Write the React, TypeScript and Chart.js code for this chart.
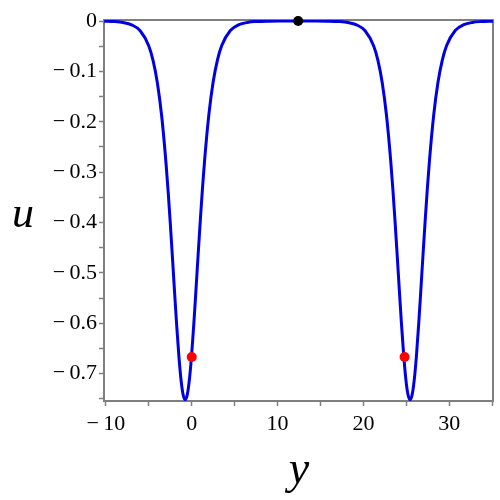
import React, { useEffect, useRef } from "react";
import { Chart, registerables } from "chart.js";

Chart.register(...registerables);

// Curve u(y)
const curveX = [
  -10.2, -9, -8, -7, -6, -5, -4.5, -4, -3.5, -3, -2.75, -2.5, -2.25, -2, -1.75, -1.5, -1.25, -1, -0.76,
  -0.5, -0.25, 0, 0.25, 0.5, 0.75, 1, 1.25, 1.5, 2, 2.5, 3, 3.5, 4.5, 5.5, 6.5, 7.5, 9, 10.5, 12.4,
  14.2, 15.7, 17.2, 18.2, 19.2, 20.2, 21.2, 21.7, 22.2, 22.7, 23.2, 23.45, 23.7, 23.95, 24.2, 24.45, 24.7, 24.95, 25.2, 25.44,
  25.7, 25.95, 26.2, 26.45, 26.7, 26.95, 27.2, 27.45, 27.7, 28.2, 28.7, 29.2, 29.7, 30.7, 31.7, 32.7, 33.7, 35.1,
];
const curveU = [
  -0.00035, -0.0011, -0.0029, -0.0075, -0.0194, -0.0496, -0.0786, -0.1229, -0.1886, -0.281, -0.3378, -0.4009, -0.4686, -0.5379, -0.6048, -0.6646, -0.7119, -0.7421, -0.752,
  -0.7404, -0.7087, -0.6602, -0.5997, -0.5323, -0.4631, -0.3957, -0.333, -0.2768, -0.1855, -0.1208, -0.0772, -0.0487, -0.019, -0.0073, -0.0028, -0.0011, -0.00026, -0.00006, 0,
  -0.00006, -0.00026, -0.0011, -0.0029, -0.0075, -0.0194, -0.0496, -0.0786, -0.1229, -0.1886, -0.281, -0.3378, -0.4009, -0.4686, -0.5379, -0.6048, -0.6646, -0.7119, -0.7421, -0.752,
  -0.7404, -0.7087, -0.6602, -0.5997, -0.5323, -0.4631, -0.3957, -0.333, -0.2768, -0.1855, -0.1208, -0.0772, -0.0487, -0.019, -0.0073, -0.0028, -0.0011, -0.0003,
];

// Marked points
const redX = [0, 24.8];
const redU = [-0.667, -0.667];
const blackX = [12.4];
const blackU = [0];

// Axes
const xMin = -10.22;
const xMax = 35.1;
const yMin = -0.7545;
const yMax = 0.002;
const xTicks = [-10, -5, 0, 5, 10, 15, 20, 25, 30, 35];
const xLabeled = [-10, 0, 10, 20, 30];
const yTicks = [0, -0.05, -0.1, -0.15, -0.2, -0.25, -0.3, -0.35, -0.4, -0.45, -0.5, -0.55, -0.6, -0.65, -0.7, -0.75];
const yLabeled = [0, -0.1, -0.2, -0.3, -0.4, -0.5, -0.6, -0.7];
const xTitle = "y";
const yTitle = "u";

const AXIS_COLOR = "#7f7f7f";
const FONT = '"Liberation Serif", "Times New Roman", serif';

function fmt(v: number, decimals: number): string {
  if (Math.abs(v) < 1e-9) return "0";
  const s = Math.abs(v).toFixed(decimals);
  return v < 0 ? "\u2212\u2009" + s : s;
}

const framePlugin = {
  id: "frame",
  beforeDatasetsDraw(chart: any) {
    const { ctx, chartArea } = chart;
    ctx.save();
    ctx.strokeStyle = AXIS_COLOR;
    ctx.lineWidth = 2;
    ctx.strokeRect(chartArea.left, chartArea.top, chartArea.right - chartArea.left, chartArea.bottom - chartArea.top);
    ctx.restore();
  },
  afterDraw(chart: any) {
    const { ctx } = chart;
    ctx.save();
    ctx.fillStyle = "#000";
    ctx.textBaseline = "alphabetic";
    ctx.textAlign = "center";
    ctx.font = "italic 44px " + FONT;
    ctx.fillText(yTitle, 23, 227);
    ctx.font = "italic 46px " + FONT;
    ctx.fillText(xTitle, 299, 483);
    ctx.restore();
  },
};

export default function App() {
  const ref = useRef<HTMLCanvasElement | null>(null);
  useEffect(() => {
    if (!ref.current) return;
    const chart = new Chart(ref.current, {
      type: "scatter",
      data: {
        datasets: [
          {
            data: blackX.map((x, i) => ({ x, y: blackU[i] })),
            showLine: false,
            pointRadius: 5,
            pointBackgroundColor: "#000",
            pointBorderColor: "#000",
            pointBorderWidth: 0,
            clip: false,
          } as any,
          {
            data: redX.map((x, i) => ({ x, y: redU[i] })),
            showLine: false,
            pointRadius: 5,
            pointBackgroundColor: "#ff0000",
            pointBorderColor: "#ff0000",
            pointBorderWidth: 0,
            clip: false,
          } as any,
          {
            data: curveX.map((x, i) => ({ x, y: curveU[i] })),
            showLine: true,
            borderColor: "#0000e6",
            borderWidth: 3,
            pointRadius: 0,
            cubicInterpolationMode: "monotone",
            fill: false,
          } as any,
        ],
      },
      options: {
        responsive: false,
        animation: false,
        devicePixelRatio: 1,
        layout: { padding: { top: 20, right: 7, left: 0, bottom: 0 } },
        plugins: { legend: { display: false }, tooltip: { enabled: false } },
        scales: {
          x: {
            type: "linear",
            min: xMin,
            max: xMax,
            afterBuildTicks: (scale: any) => {
              scale.ticks = xTicks.map((v) => ({ value: v }));
            },
            afterFit: (scale: any) => {
              scale.height = 99;
            },
            border: { display: false },
            grid: { drawOnChartArea: false, drawTicks: true, tickLength: 5, tickColor: AXIS_COLOR, tickWidth: 1.5 },
            ticks: {
              autoSkip: false,
              maxRotation: 0,
              padding: 5,
              color: "#000",
              font: { family: FONT, size: 22 },
              callback: (v: any) => (xLabeled.some((t) => Math.abs(t - v) < 1e-6) ? fmt(Number(v), 0) : ""),
            },
          },
          y: {
            type: "linear",
            min: yMin,
            max: yMax,
            afterBuildTicks: (scale: any) => {
              scale.ticks = yTicks.map((v) => ({ value: v }));
            },
            afterFit: (scale: any) => {
              scale.width = 104;
            },
            border: { display: false },
            grid: { drawOnChartArea: false, drawTicks: true, tickLength: 5, tickColor: AXIS_COLOR, tickWidth: 1.5 },
            ticks: {
              autoSkip: false,
              padding: 2,
              color: "#000",
              font: { family: FONT, size: 22 },
              callback: (v: any) => (yLabeled.some((t) => Math.abs(t - v) < 1e-6) ? fmt(Number(v), 1) : ""),
            },
          },
        },
      },
      plugins: [framePlugin],
    } as any);
    return () => chart.destroy();
  }, []);
  return (
    <div style={{ position: "fixed", left: 0, top: 0, width: 500, height: 500, background: "#fff" }}>
      <canvas ref={ref} width={500} height={500} style={{ display: "block" }} />
    </div>
  );
}
